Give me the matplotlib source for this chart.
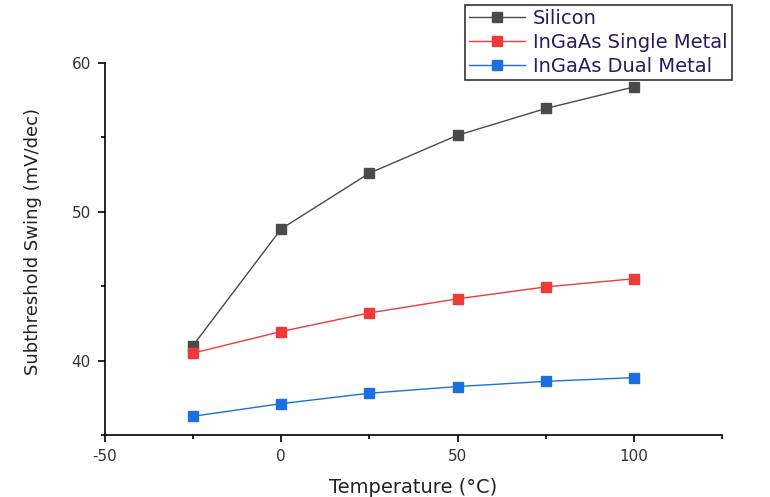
import matplotlib
matplotlib.use('Agg')
import matplotlib.pyplot as plt
from matplotlib.ticker import MultipleLocator

plt.rcParams['font.family'] = ['DejaVu Sans']
plt.rcParams['axes.unicode_minus'] = False

# temperatura y swing de cada dispositivo
temperatura = [-25, 0, 25, 50, 75, 100]
silicon = [41.0, 48.85, 52.6, 55.15, 56.95, 58.4]
ingaas_single = [40.5, 41.95, 43.2, 44.15, 44.95, 45.5]
ingaas_dual = [36.25, 37.1, 37.8, 38.25, 38.6, 38.85]

etiquetas = ['Silicon', 'InGaAs Single Metal', 'InGaAs Dual Metal']
colores = ['#4a4a4a', '#f03a3a', '#1c6fe0']

fig = plt.figure(figsize=(7.7, 4.97), dpi=100)
ax = fig.add_axes([0.136, 0.125, 0.802, 0.748])

for serie, etiqueta, color in zip([silicon, ingaas_single, ingaas_dual], etiquetas, colores):
    ax.plot(temperatura, serie, marker='s', markersize=7, linewidth=1,
            color=color, label=etiqueta)

ax.set_xlim(-50, 125)
ax.set_ylim(35, 60)
ax.xaxis.set_major_locator(MultipleLocator(50))
ax.xaxis.set_minor_locator(MultipleLocator(25))
ax.yaxis.set_major_locator(MultipleLocator(10))
ax.yaxis.set_minor_locator(MultipleLocator(5))

ax.spines['top'].set_visible(False)
ax.spines['right'].set_visible(False)
for s in ['left', 'bottom']:
    ax.spines[s].set_linewidth(1.2)

ax.tick_params(which='major', direction='out', length=5, width=1.2,
               labelsize=11, labelcolor='#333333', pad=5)
ax.tick_params(which='minor', direction='out', length=3, width=1.2)

ax.set_xlabel('Temperature (°C)', fontsize=14, color='#222222', labelpad=10)
ax.set_ylabel('Subthreshold Swing (mV/dec)', fontsize=13, color='#222222')
ax.yaxis.set_label_coords(-0.102, 0.52)

leg = fig.legend(loc='upper left', bbox_to_anchor=(465 / 770, 1 - 5 / 497),
                 fontsize=14, frameon=True, fancybox=False, handlelength=2.9,
                 borderpad=0.2, labelspacing=0.25, handletextpad=0.4,
                 borderaxespad=0)
leg.get_frame().set_edgecolor('black')
leg.get_frame().set_linewidth(1.2)
for t in leg.get_texts():
    t.set_color('#2a1a5e')

plt.savefig('out.png', dpi=100)
